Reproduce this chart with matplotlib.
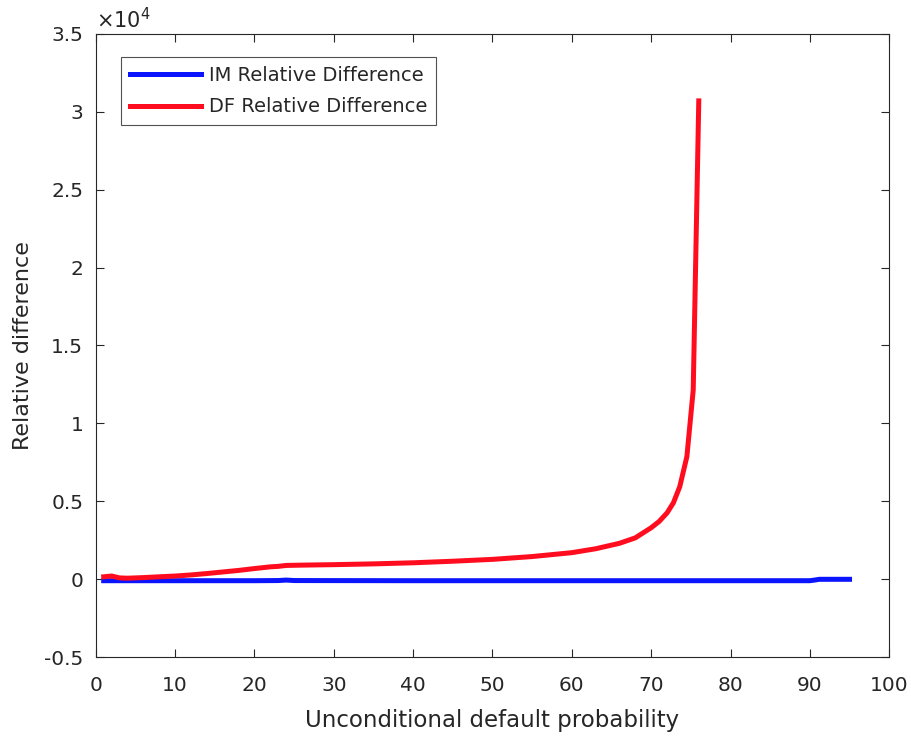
import matplotlib
matplotlib.use("Agg")
import matplotlib.pyplot as plt
from matplotlib.ticker import FuncFormatter, MultipleLocator

plt.rcParams['font.family'] = ['DejaVu Sans']

# IM relative difference
im_x = [1, 10, 20, 23, 24, 25, 40, 60, 80, 90, 90.6, 91.2, 95]
im_y = [-100, -100, -100, -90, -60, -90, -100, -100, -100, -100, -60, -10, -10]

# DF relative difference
df_x = [1, 2, 3, 4, 6, 8, 10, 12, 14, 16, 18, 20, 22, 23, 24, 26, 30, 35, 40, 45,
        50, 55, 60, 63, 66, 68, 70, 71, 72, 72.8, 73.6, 74.5, 75.3, 76]
df_y = [150, 200, 80, 60, 100, 150, 200, 270, 360, 460, 560, 680, 790, 820, 880, 900,
        930, 980, 1050, 1150, 1270, 1450, 1700, 1950, 2300, 2650, 3300, 3700, 4250,
        4900, 5930, 7860, 12140, 30700]

fig = plt.figure(figsize=(9.12, 7.37), dpi=100)
ax = fig.add_axes([0.105, 0.1085, 0.87, 0.8455])

ax.plot(im_x, im_y, color='#0a14ff', lw=3.6, label='IM Relative Difference')
ax.plot(df_x, df_y, color='#ff0d1f', lw=3.6, label='DF Relative Difference')

ax.set_xlim(0, 100)
ax.set_ylim(-5000, 35000)
ax.xaxis.set_major_locator(MultipleLocator(10))
ax.yaxis.set_major_locator(MultipleLocator(5000))
ax.yaxis.set_major_formatter(FuncFormatter(lambda v, p: ('%g' % (v / 1e4)).replace('\u2212', '-')))

tc = '#262626'
ax.tick_params(direction='in', top=True, right=True, length=6, width=0.8,
               labelsize=14.5, colors=tc)
ax.tick_params(axis='x', pad=14)
ax.tick_params(axis='y', pad=9)
for s in ax.spines.values():
    s.set_color(tc)
    s.set_linewidth(0.8)

ax.set_xlabel('Unconditional default probability', fontsize=16.5, color=tc, labelpad=10)
ax.set_ylabel('Relative difference', fontsize=16, color=tc, labelpad=8)
ax.text(0.0, 1.003, r'$\times\mathregular{10^{4}}$', transform=ax.transAxes,
        fontsize=15, color=tc, va='bottom', ha='left')

leg = ax.legend(loc='upper left', bbox_to_anchor=(0.0315, 0.963), borderaxespad=0,
                fontsize=14, handlelength=3.7, frameon=True, fancybox=False,
                edgecolor=tc, borderpad=0.45, labelspacing=0.65, handletextpad=0.4)
leg.get_frame().set_linewidth(0.8)
for t in leg.get_texts():
    t.set_color(tc)

fig.savefig('out.png', dpi=100)
